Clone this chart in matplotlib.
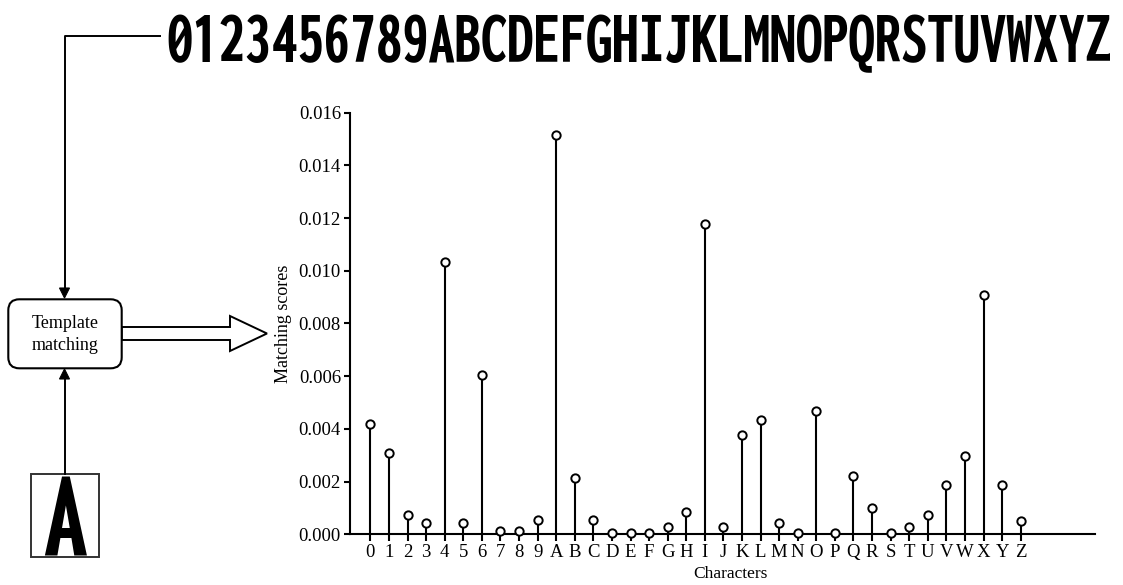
import os
import matplotlib
matplotlib.use('Agg')
import matplotlib.pyplot as plt
from matplotlib import font_manager as fm
from matplotlib.patches import FancyBboxPatch, Rectangle, Polygon

chars = list('0123456789ABCDEFGHIJKLMNOPQRSTUVWXYZ')
scores = [0.00420, 0.00307, 0.00073, 0.00044, 0.01032, 0.00044, 0.00604, 0.00014, 0.00014, 0.00055,
          0.01515, 0.00214, 0.00055, 0.00006, 0.00006, 0.00006, 0.00029, 0.00083, 0.01179, 0.00029,
          0.00377, 0.00435, 0.00044, 0.00006, 0.00468, 0.00006, 0.00220, 0.00101, 0.00006, 0.00028,
          0.00072, 0.00187, 0.00298, 0.00910, 0.00186, 0.00049]
yticks = [0.000, 0.002, 0.004, 0.006, 0.008, 0.010, 0.012, 0.014, 0.016]

plt.rcParams['font.family'] = ['Liberation Serif', 'DejaVu Serif']


def pick_narrow():
    # heavy narrow face for the character strip
    best, best_s = None, 0
    for f in fm.fontManager.ttflist:
        n = os.path.basename(f.fname).lower()
        if 'italic' in n or 'oblique' in n:
            continue
        s = 0
        if 'extracondensedextrabold' in n:
            s = 5
        elif 'extracondensedbold' in n:
            s = 4
        elif 'condensedbold' in n and 'semi' not in n and 'extra' not in n:
            s = 3.5
        elif 'narrow-bold' in n or 'narrowbold' in n:
            s = 3
        elif 'condensed-bold' in n:
            s = 1
        if s > best_s:
            best, best_s = f.fname, s
    if best is None:
        return fm.FontProperties(family='DejaVu Sans', weight='bold')
    return fm.FontProperties(fname=best)


fig = plt.figure(figsize=(11.23, 5.85), dpi=100)

# stem chart
ax = fig.add_axes([350 / 1123, 1 - 534.3 / 585, 745 / 1123, 421.6 / 585])
x = list(range(len(chars)))
ax.vlines(x, 0, scores, color='black', lw=1.5, zorder=2)
ax.plot(x, scores, 'o', ms=6, mfc='white', mec='black', mew=1.4, zorder=3, clip_on=False)
ax.set_xlim(-1.1, 39.0)
ax.set_ylim(0, 0.016)
ax.set_xticks(x)
ax.set_xticklabels(chars)
ax.set_yticks(yticks)
ax.set_yticklabels(['%.3f' % v for v in yticks])
for s in ['top', 'right']:
    ax.spines[s].set_visible(False)
for s in ['left', 'bottom']:
    ax.spines[s].set_linewidth(1.5)
ax.tick_params(axis='y', direction='out', length=4.5, width=1.5, labelsize=13.5, pad=2)
ax.tick_params(axis='x', direction='out', length=5, width=1.5, labelsize=13.5, pad=2)
ax.set_ylabel('Matching scores', fontsize=13, labelpad=5)
ax.set_xlabel('Characters', fontsize=12.5)
ax.xaxis.set_label_coords(0.511, -0.076)

# diagram layer in pixel coordinates
dax = fig.add_axes([0, 0, 1, 1])
dax.set_xlim(0, 1123)
dax.set_ylim(585, 0)
dax.axis('off')
dax.patch.set_alpha(0)

dax.plot([160, 64.5, 64.5], [35.7, 35.7, 289], color='black', lw=1.4)
dax.add_patch(Polygon([[59.5, 288], [69.5, 288], [64.5, 298]], closed=True, fc='black', ec='black', lw=0.8))
dax.plot([64.5, 64.5], [474, 378], color='black', lw=1.4)
dax.add_patch(Polygon([[59.5, 379], [69.5, 379], [64.5, 369]], closed=True, fc='black', ec='black', lw=0.8))

dax.add_patch(FancyBboxPatch((8.3, 299.3), 113.4, 69, boxstyle='round,pad=0,rounding_size=11',
                             fc='white', ec='black', lw=1.5, zorder=3))
dax.text(65, 323, 'Template', ha='center', va='center', fontsize=13, zorder=4)
dax.text(65, 345, 'matching', ha='center', va='center', fontsize=13, zorder=4)

dax.add_patch(Polygon([[121.7, 327], [230, 327], [230, 316], [267, 333.5], [230, 351],
                       [230, 340], [121.7, 340]], closed=True, fc='white', ec='black', lw=1.4))

dax.add_patch(Rectangle((31, 474), 68, 83, fc='white', ec='#333333', lw=1.4))

fp = pick_narrow()
r = fig.canvas.get_renderer()

strip = dax.text(166, 62, ''.join(chars), ha='left', va='baseline', fontproperties=fp,
                 fontsize=40, color='black')
w = strip.get_window_extent(r).width
strip.set_fontsize(40 * 944 / w)

a = dax.text(64.5, 556, 'A', ha='center', va='baseline', fontproperties=fp, fontsize=60, color='black')
h = a.get_window_extent(r).height
a.set_fontsize(60 * 82 / (h * 0.78))

fig.savefig('out.png', dpi=100)
